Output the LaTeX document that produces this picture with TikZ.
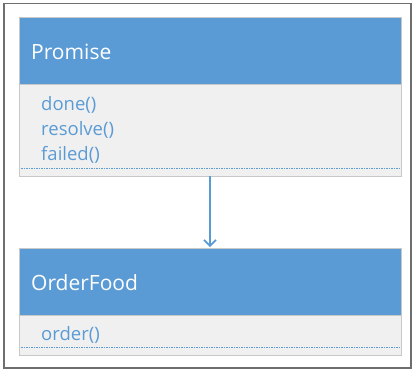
\documentclass[tikz,border=0pt]{standalone}
\usepackage{fontspec}
\setmainfont{Open Sans}
\usetikzlibrary{arrows.meta}
\definecolor{hdr}{HTML}{5B9BD5}
\definecolor{bodyg}{HTML}{F0F0F0}
\definecolor{brd}{HTML}{C8C8C8}
\definecolor{frm}{HTML}{6E6E6E}
\tikzset{
  header/.style={fill=hdr, draw=brd, line width=0.8pt},
  bodybox/.style={fill=bodyg, draw=brd, line width=0.8pt},
  title/.style={anchor=base west, text=white, font=\fontsize{21}{24}\selectfont, inner sep=0pt},
  meth/.style={anchor=base west, text=hdr, font=\fontsize{18.5}{25}\selectfont, inner sep=0pt, align=left},
  dotline/.style={draw=hdr, dash pattern=on 1.5pt off 1pt, line width=1pt},
  conn/.style={draw=hdr, line width=1.4pt, -{Straight Barb[length=6pt,width=12pt,line width=1.6pt]}}
}
\begin{document}
\begin{tikzpicture}[x=1pt,y=-1pt]
\useasboundingbox (0,0) rectangle (416,370);
\fill[white] (0,0) rectangle (416,370);
\draw[frm, line width=1.5pt] (4,3.5) rectangle (411,368);
% Promise
\path[bodybox] (19,84) rectangle (401,176);
\path[header] (19,17) rectangle (401,84);
\node[title] (pt) at (31,59) {Promise};
\node[meth] (m1) at (41,110) {done()};
\node[meth] (m2) at (41,135) {resolve()};
\node[meth] (m3) at (41,160) {failed()};
\path[dotline] (21,168) -- (399,168);
\coordinate (ps) at (210,176);
% OrderFood
\path[bodybox] (19,315) rectangle (401,355);
\path[header] (19,248) rectangle (401,315);
\node[title] (ot) at (31,290) {OrderFood};
\node[meth] (o1) at (41,340) {order()};
\path[dotline] (21,347) -- (399,347);
\coordinate (oe) at (210,247);
\draw[conn] (ps) -- (oe);
\end{tikzpicture}
\end{document}
